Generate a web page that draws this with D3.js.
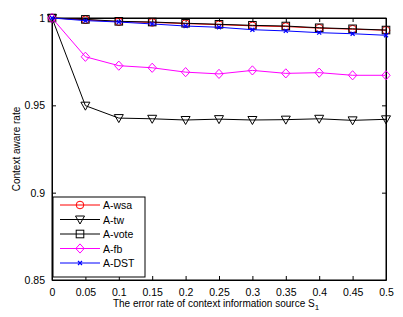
<!DOCTYPE html>
<html>
<head>
<meta charset="utf-8">
<script src="https://cdn.jsdelivr.net/npm/d3@7"></script>
<style>
body{margin:0;background:#fff;}
text{font-family:"Liberation Sans",Arial,sans-serif;}
</style>
</head>
<body>
<script>
var W = 403, H = 317;
var margin = {left: 52, right: 17, top: 18, bottom: 37};

var errRate = [0, 0.05, 0.1, 0.15, 0.2, 0.25, 0.3, 0.35, 0.4, 0.45, 0.5];
var wsa  = [1.0, 0.9990, 0.9979, 0.9975, 0.9968, 0.9962, 0.9955, 0.9951, 0.9942, 0.9936, 0.9930];
var tw   = [1.0, 0.9498, 0.9427, 0.9423, 0.9416, 0.9421, 0.9416, 0.9418, 0.9423, 0.9414, 0.9420];
var vote = [1.0, 0.9992, 0.9981, 0.9977, 0.9970, 0.9964, 0.9958, 0.9954, 0.9944, 0.9938, 0.9931];
var fb   = [1.0, 0.9778, 0.9727, 0.9715, 0.9690, 0.9680, 0.9700, 0.9683, 0.9687, 0.9672, 0.9672];
var dst  = [1.0, 0.9985, 0.9977, 0.9966, 0.9954, 0.9947, 0.9933, 0.9926, 0.9916, 0.9910, 0.9901];
var yTicks = [0.85, 0.9, 0.95, 1];
var seriesNames = ["A-wsa", "A-tw", "A-vote", "A-fb", "A-DST"];

var series = [
  {name: seriesNames[0], values: wsa, color: "#ff0000", marker: "circle"},
  {name: seriesNames[1], values: tw, color: "#000000", marker: "triangle"},
  {name: seriesNames[2], values: vote, color: "#000000", marker: "square"},
  {name: seriesNames[3], values: fb, color: "#ff00ff", marker: "diamond"},
  {name: seriesNames[4], values: dst, color: "#0000ff", marker: "x"}
];

var svg = d3.select("body").append("svg").attr("width", W).attr("height", H);

var x = d3.scaleLinear().domain([0, 0.5]).range([margin.left, W - margin.right]);
var y = d3.scaleLinear().domain([0.85, 1]).range([H - margin.bottom, margin.top]);

var fmt = function(d){ return d3.format("")(+d.toFixed(2)); };

// axes with inward ticks
svg.append("g").attr("transform", "translate(0," + y.range()[0] + ")")
  .call(d3.axisBottom(x).tickValues(errRate).tickSizeInner(-4).tickSizeOuter(0).tickPadding(9).tickFormat(fmt));
svg.append("g").attr("transform", "translate(0," + y.range()[1] + ")")
  .call(d3.axisTop(x).tickValues(errRate).tickSizeInner(-4).tickSizeOuter(0).tickFormat(""));
svg.append("g").attr("transform", "translate(" + x.range()[0] + ",0)")
  .call(d3.axisLeft(y).tickValues(yTicks).tickSizeInner(-4).tickSizeOuter(0).tickPadding(7).tickFormat(fmt));
svg.append("g").attr("transform", "translate(" + x.range()[1] + ",0)")
  .call(d3.axisRight(y).tickValues(yTicks).tickSizeInner(-4).tickSizeOuter(0).tickFormat(""));

svg.selectAll(".domain").attr("stroke", "#000");
svg.selectAll(".tick line").attr("stroke", "#000");
svg.selectAll(".tick text").attr("font-size", 10.5).attr("fill", "#000")
  .style("font-family", "Liberation Sans, Arial, sans-serif");

svg.append("rect")
  .attr("x", x.range()[0]).attr("y", y.range()[1])
  .attr("width", x.range()[1] - x.range()[0]).attr("height", y.range()[0] - y.range()[1])
  .attr("fill", "none").attr("stroke", "#000");

function drawMarker(g, type, color){
  if(type == "circle"){
    g.append("circle").attr("r", 3.8).attr("fill", "none").attr("stroke", color);
  } else if(type == "triangle"){
    g.append("path").attr("d", "M-4.5,-3.5L4.5,-3.5L0,4.5Z").attr("fill", "none").attr("stroke", color);
  } else if(type == "square"){
    g.append("rect").attr("x", -3.8).attr("y", -3.8).attr("width", 7.6).attr("height", 7.6).attr("fill", "none").attr("stroke", color);
  } else if(type == "diamond"){
    g.append("path").attr("d", "M0,-4.6L4.2,0L0,4.6L-4.2,0Z").attr("fill", "none").attr("stroke", color);
  } else {
    g.append("path").attr("d", "M-2,-2L2,2M-2,2L2,-2").attr("stroke", color).attr("stroke-width", 1.2);
  }
}

var line = d3.line().x(function(d,i){ return x(errRate[i]); }).y(function(d){ return y(d); });

series.forEach(function(s){
  svg.append("path").datum(s.values).attr("d", line)
    .attr("fill", "none").attr("stroke", s.color).attr("stroke-width", 1);
  s.values.forEach(function(v, i){
    var g = svg.append("g").attr("transform", "translate(" + x(errRate[i]) + "," + y(v) + ")");
    drawMarker(g, s.marker, s.color);
  });
});

// legend
var lg = svg.append("g").attr("transform", "translate(53,197)");
lg.append("rect").attr("width", 92).attr("height", 80).attr("fill", "#fff").attr("stroke", "#000");
series.forEach(function(s, i){
  var row = lg.append("g").attr("transform", "translate(0," + (8 + i * 14.5) + ")");
  row.append("line").attr("x1", 7).attr("x2", 47).attr("stroke", s.color);
  drawMarker(row.append("g").attr("transform", "translate(27,0)"), s.marker, s.color);
  row.append("text").attr("x", 50).attr("y", 4).attr("font-size", 10.5).text(s.name);
});

// axis labels
svg.append("text")
  .attr("x", (x.range()[0] + x.range()[1]) / 2 - 3).attr("y", 307)
  .attr("text-anchor", "middle").attr("font-size", 10)
  .html('The error rate of context information source S<tspan font-size="8" dy="3">1</tspan>');

svg.append("text")
  .attr("transform", "translate(20," + ((y.range()[0] + y.range()[1]) / 2) + ") rotate(-90)")
  .attr("text-anchor", "middle").attr("font-size", 10)
  .text("Context aware rate");
</script>
</body>
</html>
